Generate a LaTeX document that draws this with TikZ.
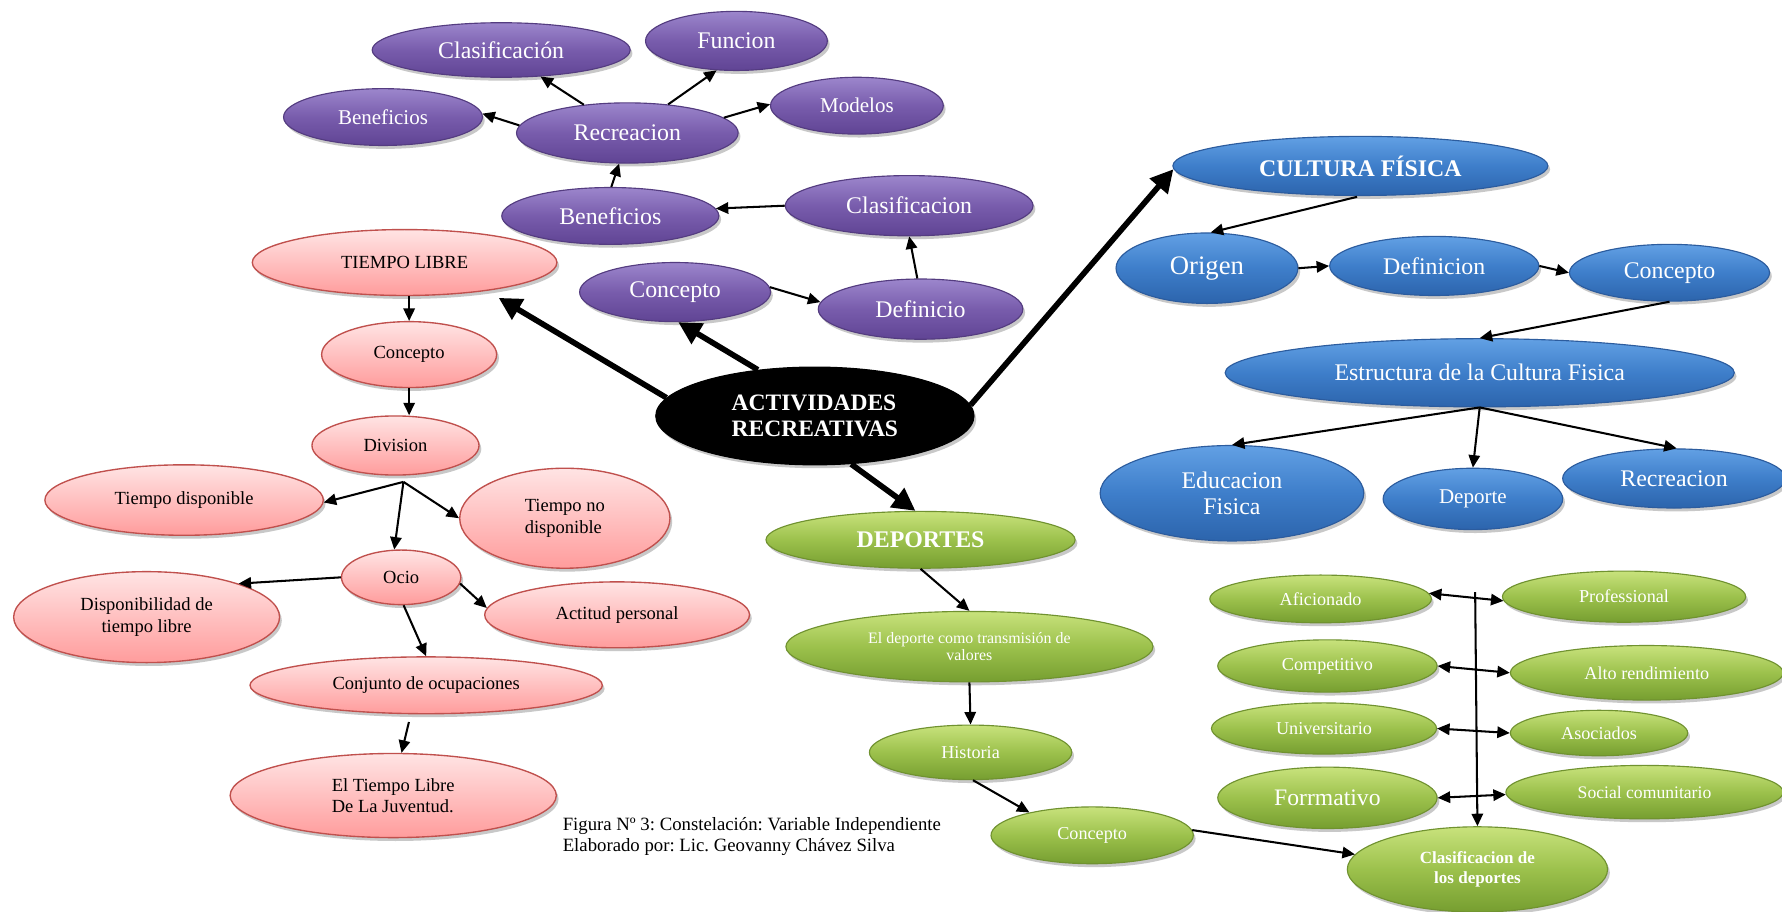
\documentclass[tikz,border=0pt]{standalone}
\usepackage{fontspec}
\setmainfont{Liberation Serif}
\usetikzlibrary{shapes.geometric,arrows.meta,shadows}

\definecolor{purTop}{RGB}{156,134,204}
\definecolor{purMid}{RGB}{120,92,172}
\definecolor{purBot}{RGB}{96,68,148}
\definecolor{purEdge}{RGB}{84,60,128}
\definecolor{pinkTop}{RGB}{255,228,228}
\definecolor{pinkBot}{RGB}{255,156,156}
\definecolor{pinkEdge}{RGB}{192,80,77}
\definecolor{bluTop}{RGB}{98,160,228}
\definecolor{bluMid}{RGB}{62,126,202}
\definecolor{bluBot}{RGB}{44,100,172}
\definecolor{bluEdge}{RGB}{44,92,158}
\definecolor{grnTop}{RGB}{200,226,124}
\definecolor{grnMid}{RGB}{156,193,76}
\definecolor{grnBot}{RGB}{118,158,48}
\definecolor{grnEdge}{RGB}{112,146,48}

\newcommand\fsz[2]{\fontsize{#1}{#2}\selectfont}
\frenchspacing

\begin{document}
\begin{tikzpicture}[x=1pt,y=-1pt,
  sz/.style 2 args={minimum width=#1pt, minimum height=#2pt},
  bub/.style={ellipse, inner sep=0pt, align=center, line width=1pt,
    drop shadow={shadow xshift=2pt, shadow yshift=-3pt, opacity=0.3, fill=black!70}},
  pur/.style={bub, draw=purEdge, top color=purTop, bottom color=purBot, middle color=purMid,
    text=white, font=\fsz{21}{23}},
  pnk/.style={bub, draw=pinkEdge, line width=1.2pt, top color=pinkTop, bottom color=pinkBot,
    text=black, font=\fsz{16.3}{19}},
  blu/.style={bub, draw=bluEdge, top color=bluTop, bottom color=bluBot, middle color=bluMid,
    text=white, font=\fsz{21}{23.5}},
  grn/.style={bub, draw=grnEdge, top color=grnTop, bottom color=grnBot, middle color=grnMid,
    text=white, font=\fsz{16}{18}},
  arr/.style={line width=1.8pt, -{Triangle[length=11pt,width=10pt]}},
  darr/.style={line width=1.8pt, {Triangle[length=11pt,width=10pt]}-{Triangle[length=11pt,width=10pt]}},
  bigarr/.style={line width=5pt, -{Triangle[length=20pt,width=20pt]}}
]
\fill[white] (0,0) rectangle (1568,802);
\useasboundingbox (0,0) rectangle (1568,802);

% ---- Recreacion cluster (purple)
\node[pur, sz={227}{48}] (clasA) at (441,44) {Clasificación};
\node[pur, sz={160}{52}] (func) at (648,36) {Funcion};
\node[pur, sz={175}{50}, font=\fsz{18.5}{20}] (benA) at (337,103) {Beneficios};
\node[pur, sz={195}{53}] (recA) at (552,117) {Recreacion};
\node[pur, sz={152}{50}, font=\fsz{18.5}{20}] (mod) at (754,93) {Modelos};
\node[pur, sz={191}{50}] (benB) at (537,190) {Beneficios};
\node[pur, sz={218}{53}] (clasB) at (800,181) {Clasificacion};
\node[pur, sz={168}{52}] (concA) at (594,257) {Concepto};
\node[pur, sz={180}{53}] (defi) at (810,272) {Definicio};

% ---- Tiempo libre cluster (pink)
\node[pnk, sz={268}{58}] (tl) at (356,231) {TIEMPO LIBRE};
\node[pnk, sz={154}{58}] (pc) at (360,312) {Concepto};
\node[pnk, sz={147}{52}] (div) at (348,392) {Division};
\node[pnk, sz={245}{62}] (td) at (162,440) {Tiempo disponible};
\node[pnk, sz={185}{88}, align=left] (tnd) at (497,456) {Tiempo no\\disponible};
\node[pnk, sz={105}{48}] (ocio) at (353,508) {Ocio};
\node[pnk, sz={234}{80}] (disp) at (129,543) {Disponibilidad de\\tiempo libre};
\node[pnk, sz={233}{58}] (act) at (543,541) {Actitud personal};
\node[pnk, sz={310}{50}] (conj) at (375,603) {Conjunto de ocupaciones};
\node[pnk, sz={287}{74}, align=left, font=\fsz{16.3}{18}] (juv) at (346,700) {El Tiempo Libre\\De La Juventud.};

% ---- Cultura fisica cluster (blue)
\node[blu, sz={330}{52}, font=\bfseries\fsz{21}{23}] (cf) at (1197,146) {CULTURA FÍSICA};
\node[blu, sz={160}{62}, font=\fsz{23.5}{25}] (orig) at (1062,236) {Origen};
\node[blu, sz={184}{52}] (defn) at (1262,234) {Definicion};
\node[blu, sz={176}{50}] (concB) at (1469,240) {Concepto};
\node[blu, sz={448}{60}] (estr) at (1302,328) {Estructura de la Cultura Fisica};
\node[blu, sz={232}{84}] (edu) at (1084,434) {Educacion\\Fisica};
\node[blu, sz={158}{54}, font=\fsz{18.5}{20}] (depo) at (1296,439) {Deporte};
\node[blu, sz={196}{52}] (recB) at (1473,421) {Recreacion};

% ---- Deportes cluster (green)
\node[grn, sz={272}{50}, font=\bfseries\fsz{21}{23}] (dep) at (810,475) {DEPORTES};
\node[grn, sz={323}{62}, font=\fsz{14}{15}] (tv) at (853,569) {El deporte como transmisión de\\valores};
\node[grn, sz={178}{48}] (hist) at (854,662) {Historia};
\node[grn, sz={178}{50}] (concG) at (961,735) {Concepto};
\node[grn, sz={229}{75}, font=\bfseries\fsz{15}{17.6}] (cld) at (1300,765) {Clasificacion de\\los deportes};
\node[grn, sz={195}{42}] (afi) at (1162,527) {Aficionado};
\node[grn, sz={214}{45}] (pro) at (1429,525) {Professional};
\node[grn, sz={193}{46}] (comp) at (1168,586) {Competitivo};
\node[grn, sz={240}{48}] (alto) at (1449,592) {Alto rendimiento};
\node[grn, sz={198}{45}] (univ) at (1165,641) {Universitario};
\node[grn, sz={156}{40}] (aso) at (1407,645) {Asociados};
\node[grn, sz={193}{54}, font=\fsz{20.8}{22}] (form) at (1168,702) {Forrmativo};
\node[grn, sz={244}{47}, font=\fsz{15.5}{17}] (soc) at (1447,697) {Social comunitario};

% ---- Central node
\node[bub, fill=black, draw=black, text=white, align=left, sz={280}{86},
      font=\bfseries\fsz{20.7}{22.5}] (cen) at (717,366) {ACTIVIDADES\\RECREATIVAS};

% ---- Caption
\node[anchor=north west, align=left, inner sep=0pt, font=\fsz{16.5}{18.5}] (cap) at (495,719)
  {Figura Nº 3: Constelación: Variable Independiente\\Elaborado por: Lic. Geovanny Chávez Silva};

% ---- Main branches
\draw[bigarr, shorten >=12pt] (cen.173) -- (tl.-19);
\draw[bigarr] (cen.141) -- (concA.-84);
\draw[bigarr] (cen.4) -- (cf.181);
\draw[bigarr] (cen.-53) -- (dep.100);

% ---- Recreacion links
\draw[arr] (recA.147) -- (clasA.-34);
\draw[arr] (recA.35) -- (func.-124);
\draw[arr] (recA.176) -- (benA.2);
\draw[arr] (recA.9) -- (mod.179);
\draw[arr] (benB.88) -- (recA.-105);
\draw[arr] (clasB.180) -- (benB.4);
\draw[arr] (defi.96) -- (clasB.-90);
\draw[arr] (concA.3) -- (defi.176);

% ---- Tiempo libre links
\draw[arr] (tl.south -| pc.north) -- (pc.north);
\draw[arr] (pc.south) -- (pc.south |- div.north);
\coordinate (divfork) at (355,424);
\draw[arr] (divfork) -- (td.-1);
\draw[arr] (divfork) -- (ocio.104);
\draw[arr] (divfork) -- (tnd.180);
\draw[arr] (ocio.180) -- (disp.20);
\draw[arr] (ocio.-6) -- (act.177);
\draw[arr] (ocio.-85) -- (conj.90);
\draw[arr, shorten <=7pt] (conj.-118) -- (juv.79);

% ---- Cultura fisica links
\draw[arr, shorten <=3pt] (cf.south) -- (orig.84);
\draw[arr] (orig.east) -- (defn.west);
\draw[arr] (defn.east) -- (concB.west);
\draw[arr] (concB.south) -- (estr.north);
\draw[arr] (estr.south) -- (edu.north);
\draw[arr] (estr.south) -- (depo.north);
\draw[arr] (estr.south) -- (recB.85);

% ---- Deportes links
\draw[arr] (dep.south) -- (tv.north);
\draw[arr] (tv.south) -- (hist.north);
\draw[arr] (hist.-85) -- (concG.160);
\draw[arr] (concG.3) -- (cld.173);
\draw[darr] (afi.3) -- (pro.182);
\draw[darr] (comp.0) -- (alto.180);
\draw[darr] (univ.0) -- (aso.180);
\draw[darr] (form.0) -- (soc.181);
\coordinate (cltop) at (1298,521);
\draw[arr] (cltop) -- (cld.north);
\end{tikzpicture}
\end{document}
